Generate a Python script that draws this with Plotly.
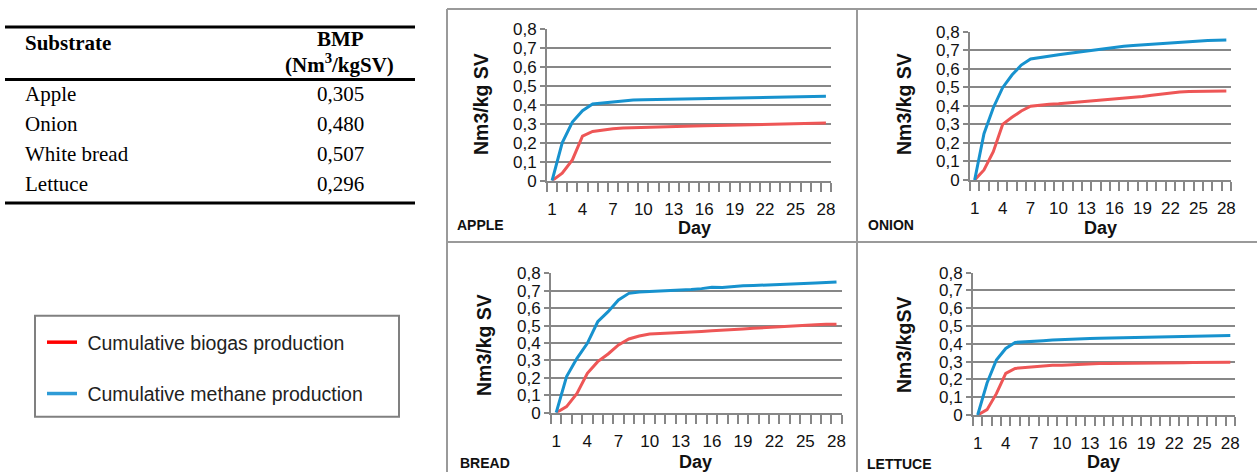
import plotly.graph_objects as go

W, H = 1257, 472

days = list(range(1, 29))

apple_biogas = [0, 0.04, 0.11, 0.235, 0.26, 0.268, 0.275, 0.278, 0.28, 0.282, 0.284, 0.285, 0.287, 0.288,
                0.289, 0.29, 0.291, 0.292, 0.293, 0.294, 0.295, 0.297, 0.299, 0.3, 0.302, 0.303, 0.304, 0.305]
apple_methane = [0, 0.20, 0.31, 0.37, 0.405, 0.41, 0.418, 0.423, 0.427, 0.428, 0.429, 0.43, 0.432, 0.433,
                 0.435, 0.436, 0.437, 0.437, 0.438, 0.439, 0.44, 0.441, 0.442, 0.443, 0.444, 0.445, 0.445, 0.446]

onion_biogas = [0, 0.054, 0.153, 0.30, 0.338, 0.372, 0.398, 0.404, 0.408, 0.411, 0.415, 0.419, 0.424, 0.428,
                0.431, 0.435, 0.439, 0.443, 0.45, 0.457, 0.464, 0.47, 0.475, 0.477, 0.478, 0.479, 0.48, 0.48]
onion_methane = [0, 0.25, 0.39, 0.498, 0.566, 0.62, 0.653, 0.662, 0.669, 0.676, 0.683, 0.69, 0.697, 0.704,
                 0.71, 0.716, 0.721, 0.725, 0.729, 0.732, 0.736, 0.74, 0.744, 0.748, 0.751, 0.753, 0.754, 0.755]

bread_biogas = [0, 0.035, 0.11, 0.226, 0.293, 0.337, 0.389, 0.423, 0.44, 0.452, 0.455, 0.457, 0.46, 0.463,
                0.466, 0.47, 0.472, 0.475, 0.48, 0.484, 0.488, 0.492, 0.496, 0.5, 0.503, 0.505, 0.507, 0.508]
bread_methane = [0, 0.207, 0.312, 0.398, 0.522, 0.58, 0.647, 0.685, 0.693, 0.695, 0.697, 0.7, 0.703, 0.707,
                 0.712, 0.72, 0.718, 0.724, 0.728, 0.73, 0.733, 0.735, 0.738, 0.74, 0.742, 0.744, 0.747, 0.75]

lettuce_biogas = [0, 0.03, 0.12, 0.234, 0.262, 0.267, 0.272, 0.278, 0.279, 0.28, 0.283, 0.285, 0.288, 0.289,
                  0.29, 0.29, 0.291, 0.292, 0.293, 0.293, 0.294, 0.294, 0.294, 0.295, 0.295, 0.296, 0.296, 0.296]
lettuce_methane = [0, 0.18, 0.309, 0.374, 0.408, 0.41, 0.413, 0.418, 0.422, 0.425, 0.427, 0.428, 0.43, 0.432,
                   0.433, 0.435, 0.436, 0.438, 0.44, 0.44, 0.44, 0.44, 0.441, 0.443, 0.444, 0.445, 0.446, 0.447]

panel_names = ["APPLE", "ONION", "BREAD", "LETTUCE"]
panel_ytitles = ["Nm3/kg SV", "Nm3/kg SV", "Nm3/kg SV", "Nm3/kgSV"]
biogas_series = [apple_biogas, onion_biogas, bread_biogas, lettuce_biogas]
methane_series = [apple_methane, onion_methane, bread_methane, lettuce_methane]

y_tickvals = [0, 0.1, 0.2, 0.3, 0.4, 0.5, 0.6, 0.7, 0.8]
y_ticktext = ["0", "0,1", "0,2", "0,3", "0,4", "0,5", "0,6", "0,7", "0,8"]
x_tickvals = list(range(1, 29, 3))

table_substrates = ["Apple", "Onion", "White bread", "Lettuce"]
table_bmp = ["0,305", "0,480", "0,507", "0,296"]

legend_names = ["Cumulative biogas production", "Cumulative methane production"]

# ---------------- styling / layout ----------------
RED = "#EE5656"
BLUE = "#1792CE"
GRAY = "#878787"
SANS = "Liberation Sans, Arial, sans-serif"
SERIF = "Liberation Serif, Times New Roman, serif"
TXT = "#111111"


def fx(px):
    return px / W


def fy(py):
    return 1 - py / H


# plot-area pixel boxes (left, right, top, bottom)
boxes = [
    (547, 831, 29.3, 180.7),
    (970, 1231, 31.7, 180.0),
    (551, 841.7, 273.3, 412.7),
    (973, 1235, 272.7, 415.0),
]
ytitle_pos = [(481, 104), (904, 104), (484, 345), (904, 345)]
day_pos = [(694, 228), (1100, 228), (695, 462), (1103, 462)]
name_pos = [(455, 225), (866, 225), (458, 463), (865, 464)]

fig = go.Figure()
layout = dict(
    width=W, height=H, autosize=False,
    margin=dict(l=0, r=0, t=0, b=0, pad=0, autoexpand=False),
    paper_bgcolor="white", plot_bgcolor="white",
    showlegend=True,
    font=dict(family=SANS, color=TXT),
)

annotations = []
shapes = []

for i in range(4):
    sfx = "" if i == 0 else str(i + 1)
    xa, ya = "x" + sfx, "y" + sfx
    l, r, t, b = boxes[i]
    fig.add_trace(go.Scatter(x=days, y=biogas_series[i], mode="lines", xaxis=xa, yaxis=ya,
                             line=dict(color=RED, width=3), showlegend=False, name=legend_names[0]))
    fig.add_trace(go.Scatter(x=days, y=methane_series[i], mode="lines", xaxis=xa, yaxis=ya,
                             line=dict(color=BLUE, width=3), showlegend=False, name=legend_names[1]))
    layout["xaxis" + sfx] = dict(
        domain=[fx(l), fx(r)], anchor=ya, range=[0.5, 28.5],
        tickmode="array", tickvals=x_tickvals, ticks="outside", ticklen=12,
        tickcolor="rgba(0,0,0,0)", tickfont=dict(size=17, family=SANS, color=TXT),
        showline=True, linecolor=GRAY, linewidth=2, showgrid=False, zeroline=False,
        minor=dict(tickmode="array", tickvals=[k + 0.5 for k in range(0, 29)], ticks="outside",
                   ticklen=9, tickcolor=GRAY, tickwidth=2, showgrid=False),
        fixedrange=True, automargin=False,
    )
    layout["yaxis" + sfx] = dict(
        domain=[fy(b), fy(t)], anchor=xa, range=[0, 0.8],
        tickmode="array", tickvals=y_tickvals, ticktext=y_ticktext,
        ticks="outside", ticklen=5, tickcolor=GRAY, tickwidth=2,
        tickfont=dict(size=17, family=SANS, color=TXT),
        showgrid=True, gridcolor=GRAY, gridwidth=2,
        showline=True, linecolor=GRAY, linewidth=2, zeroline=False,
        fixedrange=True, automargin=False,
    )
    annotations.append(dict(text="<b>%s</b>" % panel_ytitles[i], x=fx(ytitle_pos[i][0]), y=fy(ytitle_pos[i][1]),
                            xref="paper", yref="paper", textangle=-90, showarrow=False,
                            xanchor="center", yanchor="middle",
                            font=dict(size=19.5, family=SANS, color=TXT)))
    annotations.append(dict(text="<b>Day</b>", x=fx(day_pos[i][0]), y=fy(day_pos[i][1]),
                            xref="paper", yref="paper", showarrow=False,
                            xanchor="center", yanchor="middle",
                            font=dict(size=18, family=SANS, color=TXT)))
    annotations.append(dict(text="<b>%s</b>" % panel_names[i], x=fx(name_pos[i][0]), y=fy(name_pos[i][1]),
                            xref="paper", yref="paper", showarrow=False,
                            xanchor="left", yanchor="middle",
                            font=dict(size=14, family=SANS, color=TXT)))

# legend-only entries
fig.add_trace(go.Scatter(x=[None], y=[None], mode="lines", name="\u00a0" + legend_names[0],
                         line=dict(color="#FF0000", width=3.5), legendgroup="a", showlegend=True))
fig.add_trace(go.Scatter(x=[None], y=[None], mode="lines", name="\u00a0" + legend_names[1],
                         line=dict(color="#2E9BD6", width=3.5), legendgroup="b", showlegend=True))
layout["legend"] = dict(x=fx(42), y=fy(323), xanchor="left", yanchor="top",
                        bgcolor="rgba(0,0,0,0)", borderwidth=0, tracegroupgap=23,
                        itemwidth=30, font=dict(size=19.5, family=SANS, color="#222222"),
                        itemclick=False, itemdoubleclick=False)

# legend frame
shapes.append(dict(type="rect", xref="paper", yref="paper", x0=fx(35), x1=fx(399), y0=fy(416.7), y1=fy(315.7),
                   line=dict(color="#808080", width=2)))

# panel frames
for (x0, y0, x1, y1) in [(447, 9, 1257, 9), (447, 242, 1257, 242), (447, 9, 447, 472), (857, 9, 857, 472)]:
    shapes.append(dict(type="line", xref="paper", yref="paper", x0=fx(x0), y0=fy(y0), x1=fx(x1), y1=fy(y1),
                       line=dict(color="#9A9A9A", width=2)))

# table rules
for (yy, wd) in [(27, 3), (79.5, 3), (203, 3)]:
    shapes.append(dict(type="line", xref="paper", yref="paper", x0=fx(5), x1=fx(415), y0=fy(yy), y1=fy(yy),
                       line=dict(color="black", width=wd)))

annotations.append(dict(text="<b>Substrate</b>", x=fx(23), y=fy(43), xref="paper", yref="paper",
                        showarrow=False, xanchor="left", yanchor="middle",
                        font=dict(size=21, family=SERIF, color="black")))
annotations.append(dict(text="<b>BMP</b>", x=fx(340), y=fy(38.5), xref="paper", yref="paper",
                        showarrow=False, xanchor="center", yanchor="middle",
                        font=dict(size=21, family=SERIF, color="black")))
annotations.append(dict(text="<b>(Nm<sup>3</sup>/kgSV)</b>", x=fx(339), y=fy(64), xref="paper", yref="paper",
                        showarrow=False, xanchor="center", yanchor="middle",
                        font=dict(size=21, family=SERIF, color="black")))
for k, (s, v) in enumerate(zip(table_substrates, table_bmp)):
    yy = 94 + 30 * k
    annotations.append(dict(text=s, x=fx(23), y=fy(yy), xref="paper", yref="paper",
                            showarrow=False, xanchor="left", yanchor="middle",
                            font=dict(size=21, family=SERIF, color="black")))
    annotations.append(dict(text=v, x=fx(340), y=fy(yy), xref="paper", yref="paper",
                            showarrow=False, xanchor="center", yanchor="middle",
                            font=dict(size=21, family=SERIF, color="black")))

layout["annotations"] = annotations
layout["shapes"] = shapes
fig.update_layout(**layout)
fig.write_html("out.html", config={"displayModeBar": False},
               post_script="document.body.style.margin='0';document.body.style.overflow='hidden';")
